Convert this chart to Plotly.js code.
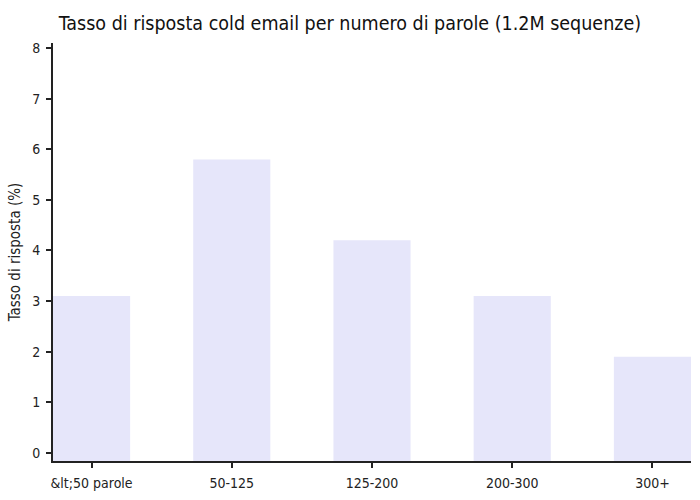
<!DOCTYPE html>
<html>
<head>
<meta charset="utf-8">
<script src="https://cdn.plot.ly/plotly-3.0.1.min.js"></script>
<style>
    body { margin: 0; background: #fff; }
</style>
</head>
<body>
<div id="myChart" style="width:700px;height:500px"></div>
<script>
// categories and values
// (first label is shown escaped in the reference, so keep it literal)
const categories = ['&amp;lt;50 parole', '50-125', '125-200', '200-300', '300+'];
const replyRate = [3.1, 5.8, 4.2, 3.1, 1.9];
const yTicks = [0, 1, 2, 3, 4, 5, 6, 7, 8];

// bottom of the value axis; bars start from here in the reference
const Y_MIN = -0.16;
const Y_MAX = 8.1;

const FONT = 'DejaVu Sans Condensed';
const INK = '#222';

var data = {
    x: categories,
    y: replyRate.map(v => v - Y_MIN),
    base: Y_MIN,
    type: 'bar',
    marker: { color: '#e6e6fa' },
    hovertemplate: '%{x}: %{customdata}%<extra></extra>',
    customdata: replyRate
};

var layout = {
    width: 700,
    height: 500,
    margin: { l: 53, r: 9, t: 43, b: 39 },
    paper_bgcolor: '#fff',
    plot_bgcolor: '#fff',
    bargap: 0.45,
    showlegend: false,
    font: { family: FONT, size: 14, color: INK },
    title: {
        text: 'Tasso di risposta cold email per numero di parole (1.2M sequenze)',
        font: { family: FONT, size: 19.5, color: '#111' },
        y: 0.954,
        yanchor: 'middle'
    },
    xaxis: {
        type: 'category',
        range: [-0.275, categories.length - 0.725],
        showline: true,
        linecolor: INK,
        linewidth: 2,
        ticks: 'outside',
        ticklen: 5,
        tickwidth: 2,
        tickcolor: INK,
        ticklabelstandoff: 3,
        showgrid: false,
        zeroline: false,
        tickfont: { family: FONT, size: 14, color: INK }
    },
    yaxis: {
        range: [Y_MIN, Y_MAX],
        tickvals: yTicks,
        showline: true,
        linecolor: INK,
        linewidth: 2,
        ticks: 'outside',
        ticklen: 5,
        tickwidth: 2,
        tickcolor: INK,
        ticklabelstandoff: 3,
        showgrid: false,
        zeroline: false,
        tickfont: { family: FONT, size: 14, color: INK },
        title: {
            text: 'Tasso di risposta (%)',
            font: { family: FONT, size: 15, color: INK },
            standoff: 8
        }
    }
};

Plotly.newPlot('myChart', [data], layout, { displayModeBar: false, staticPlot: true });
</script>
</body>
</html>
